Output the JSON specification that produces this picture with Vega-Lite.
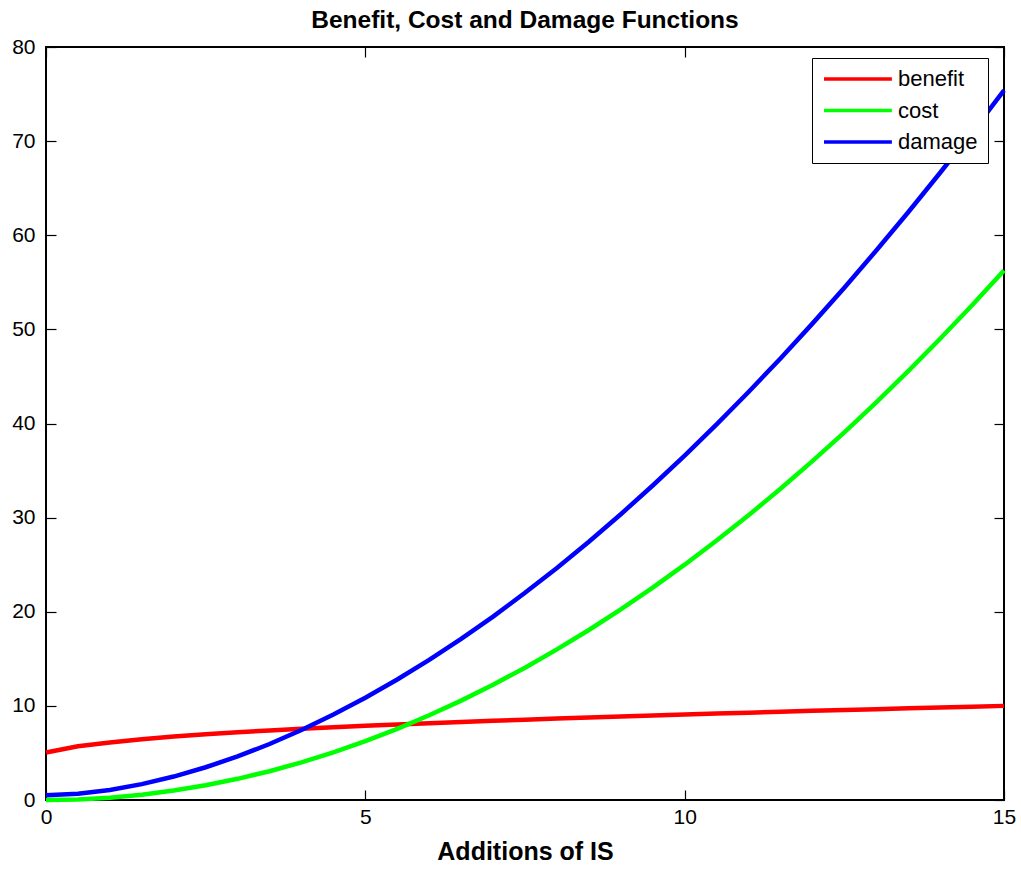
{
  "$schema": "https://vega.github.io/schema/vega-lite/v6.json",
  "width": 958,
  "height": 753,
  "autosize": {"type": "none"},
  "padding": {"left": 46, "top": 47, "right": 17, "bottom": 69},
  "background": "white",
  "title": {
    "text": "Benefit, Cost and Damage Functions",
    "font": "Liberation Sans",
    "fontSize": 24.5,
    "fontWeight": "bold",
    "color": "black",
    "anchor": "middle",
    "offset": 3
  },
  "config": {
    "view": {"stroke": "black", "strokeWidth": 2},
    "axis": {
      "domain": false,
      "grid": false,
      "tickColor": "black",
      "tickWidth": 1.2,
      "labelColor": "black",
      "labelFont": "Liberation Sans",
      "labelFontSize": 21,
      "labelFlush": false,
      "labelOverlap": false,
      "titleColor": "black",
      "titleFont": "Liberation Sans",
      "titleFontWeight": "bold",
      "titleFontSize": 25
    }
  },
  "data": {
    "values": [
      {"x": 0, "series": "benefit", "value": 5.05},
      {"x": 0.5, "series": "benefit", "value": 5.7},
      {"x": 1, "series": "benefit", "value": 6.1},
      {"x": 1.5, "series": "benefit", "value": 6.45},
      {"x": 2, "series": "benefit", "value": 6.75},
      {"x": 2.5, "series": "benefit", "value": 6.98},
      {"x": 3, "series": "benefit", "value": 7.2},
      {"x": 3.5, "series": "benefit", "value": 7.39},
      {"x": 4, "series": "benefit", "value": 7.56},
      {"x": 4.5, "series": "benefit", "value": 7.73},
      {"x": 5, "series": "benefit", "value": 7.88},
      {"x": 5.5, "series": "benefit", "value": 8.03},
      {"x": 6, "series": "benefit", "value": 8.16},
      {"x": 6.5, "series": "benefit", "value": 8.29},
      {"x": 7, "series": "benefit", "value": 8.41},
      {"x": 7.5, "series": "benefit", "value": 8.53},
      {"x": 8, "series": "benefit", "value": 8.65},
      {"x": 8.5, "series": "benefit", "value": 8.76},
      {"x": 9, "series": "benefit", "value": 8.87},
      {"x": 9.5, "series": "benefit", "value": 8.98},
      {"x": 10, "series": "benefit", "value": 9.08},
      {"x": 10.5, "series": "benefit", "value": 9.18},
      {"x": 11, "series": "benefit", "value": 9.28},
      {"x": 11.5, "series": "benefit", "value": 9.37},
      {"x": 12, "series": "benefit", "value": 9.47},
      {"x": 12.5, "series": "benefit", "value": 9.56},
      {"x": 13, "series": "benefit", "value": 9.65},
      {"x": 13.5, "series": "benefit", "value": 9.74},
      {"x": 14, "series": "benefit", "value": 9.83},
      {"x": 14.5, "series": "benefit", "value": 9.91},
      {"x": 15, "series": "benefit", "value": 10.0},
      {"x": 0, "series": "cost", "value": 0},
      {"x": 0.5, "series": "cost", "value": 0.06},
      {"x": 1, "series": "cost", "value": 0.25},
      {"x": 1.5, "series": "cost", "value": 0.56},
      {"x": 2, "series": "cost", "value": 1},
      {"x": 2.5, "series": "cost", "value": 1.56},
      {"x": 3, "series": "cost", "value": 2.25},
      {"x": 3.5, "series": "cost", "value": 3.06},
      {"x": 4, "series": "cost", "value": 4},
      {"x": 4.5, "series": "cost", "value": 5.06},
      {"x": 5, "series": "cost", "value": 6.25},
      {"x": 5.5, "series": "cost", "value": 7.56},
      {"x": 6, "series": "cost", "value": 9},
      {"x": 6.5, "series": "cost", "value": 10.56},
      {"x": 7, "series": "cost", "value": 12.25},
      {"x": 7.5, "series": "cost", "value": 14.06},
      {"x": 8, "series": "cost", "value": 16},
      {"x": 8.5, "series": "cost", "value": 18.06},
      {"x": 9, "series": "cost", "value": 20.25},
      {"x": 9.5, "series": "cost", "value": 22.56},
      {"x": 10, "series": "cost", "value": 25},
      {"x": 10.5, "series": "cost", "value": 27.56},
      {"x": 11, "series": "cost", "value": 30.25},
      {"x": 11.5, "series": "cost", "value": 33.06},
      {"x": 12, "series": "cost", "value": 36},
      {"x": 12.5, "series": "cost", "value": 39.06},
      {"x": 13, "series": "cost", "value": 42.25},
      {"x": 13.5, "series": "cost", "value": 45.56},
      {"x": 14, "series": "cost", "value": 49},
      {"x": 14.5, "series": "cost", "value": 52.56},
      {"x": 15, "series": "cost", "value": 56.25},
      {"x": 0, "series": "damage", "value": 0.5},
      {"x": 0.5, "series": "damage", "value": 0.66},
      {"x": 1, "series": "damage", "value": 1.07},
      {"x": 1.5, "series": "damage", "value": 1.69},
      {"x": 2, "series": "damage", "value": 2.49},
      {"x": 2.5, "series": "damage", "value": 3.48},
      {"x": 3, "series": "damage", "value": 4.63},
      {"x": 3.5, "series": "damage", "value": 5.95},
      {"x": 4, "series": "damage", "value": 7.44},
      {"x": 4.5, "series": "damage", "value": 9.08},
      {"x": 5, "series": "damage", "value": 10.87},
      {"x": 5.5, "series": "damage", "value": 12.8},
      {"x": 6, "series": "damage", "value": 14.89},
      {"x": 6.5, "series": "damage", "value": 17.12},
      {"x": 7, "series": "damage", "value": 19.49},
      {"x": 7.5, "series": "damage", "value": 22.01},
      {"x": 8, "series": "damage", "value": 24.65},
      {"x": 8.5, "series": "damage", "value": 27.44},
      {"x": 9, "series": "damage", "value": 30.36},
      {"x": 9.5, "series": "damage", "value": 33.41},
      {"x": 10, "series": "damage", "value": 36.59},
      {"x": 10.5, "series": "damage", "value": 39.91},
      {"x": 11, "series": "damage", "value": 43.35},
      {"x": 11.5, "series": "damage", "value": 46.91},
      {"x": 12, "series": "damage", "value": 50.61},
      {"x": 12.5, "series": "damage", "value": 54.43},
      {"x": 13, "series": "damage", "value": 58.38},
      {"x": 13.5, "series": "damage", "value": 62.45},
      {"x": 14, "series": "damage", "value": 66.64},
      {"x": 14.5, "series": "damage", "value": 70.94},
      {"x": 15, "series": "damage", "value": 75.38}
    ]
  },
  "layer": [
    {
      "mark": {"type": "line", "opacity": 0},
      "encoding": {
        "x": {
          "field": "x", "type": "quantitative",
          "scale": {"domain": [0, 15], "nice": false, "zero": false},
          "axis": {"orient": "top", "values": [0, 5, 10, 15], "labels": false, "title": null, "tickSize": -10}
        },
        "y": {
          "field": "value", "type": "quantitative",
          "scale": {"domain": [0, 80], "nice": false},
          "axis": {"orient": "right", "values": [0, 10, 20, 30, 40, 50, 60, 70, 80], "labels": false, "title": null, "tickSize": -10}
        },
        "detail": {"field": "series", "type": "nominal"}
      }
    },
    {
      "mark": {"type": "line", "strokeWidth": 4.5},
      "encoding": {
        "x": {
          "field": "x", "type": "quantitative",
          "scale": {"domain": [0, 15], "nice": false, "zero": false},
          "axis": {"orient": "bottom", "values": [0, 5, 10, 15], "title": "Additions of IS", "tickSize": -10, "labelPadding": 16, "titlePadding": 12}
        },
        "y": {
          "field": "value", "type": "quantitative",
          "scale": {"domain": [0, 80], "nice": false},
          "axis": {"orient": "left", "values": [0, 10, 20, 30, 40, 50, 60, 70, 80], "title": null, "tickSize": -10, "labelPadding": 21}
        },
        "color": {
          "field": "series", "type": "nominal",
          "scale": {"domain": ["benefit", "cost", "damage"], "range": ["#ff0000", "#00ff00", "#0000ff"]},
          "legend": {
            "title": null,
            "orient": "none",
            "legendX": 766,
            "legendY": 11,
            "symbolType": "M0,0H12",
            "symbolSize": 128,
            "symbolOffset": -9,
            "symbolStrokeWidth": 3.5,
            "labelFont": "Liberation Sans",
            "labelFontSize": 22,
            "labelColor": "black",
            "labelOffset": 63,
            "rowPadding": 9.5,
            "padding": 10,
            "strokeColor": "black",
            "fillColor": "white"
          }
        }
      }
    }
  ],
  "resolve": {"axis": {"x": "independent", "y": "independent"}}
}
